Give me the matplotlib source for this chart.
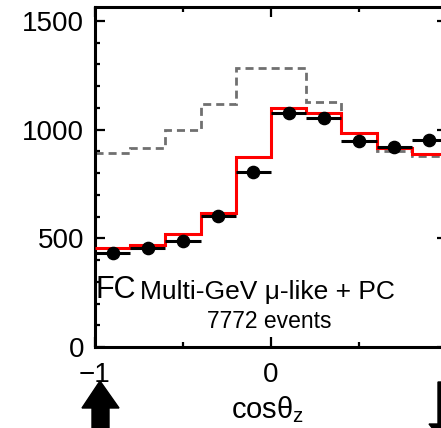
import numpy as np
import matplotlib
matplotlib.use("Agg")
import matplotlib.pyplot as plt
from matplotlib.patches import Polygon

# ---- data ----
bin_edges = [-1.0, -0.8, -0.6, -0.4, -0.2, 0.0, 0.2, 0.4, 0.6, 0.8, 1.0]
mc_null = [894, 914, 998, 1118, 1282, 1282, 1126, 985, 902, 880]      # gray dashed
mc_osc = [454, 467, 518, 615, 876, 1098, 1078, 983, 916, 889]         # red
data_vals = [431, 457, 487, 604, 807, 1075, 1052, 950, 921, 952]      # black points
xticks_major = [-1, 0, 1]
xtick_labels = ["\u22121", "0", ""]
yticks_major = [0, 500, 1000, 1500]

plt.rcParams['font.family'] = ['Liberation Sans', 'DejaVu Sans']
plt.rcParams['mathtext.fontset'] = 'custom'
plt.rcParams['mathtext.rm'] = 'Liberation Sans'
plt.rcParams['mathtext.it'] = 'Liberation Sans'

W, H = 441, 428
fig = plt.figure(figsize=(W / 100, H / 100), dpi=100)

def fx(px):
    return px / W

def fy(py):
    return 1 - py / H

ax = fig.add_axes([fx(95), fy(347), (447 - 95) / W, (347 - 7.5) / H])

edges = np.array(bin_edges)
centers = (edges[:-1] + edges[1:]) / 2
halfw = (edges[1:] - edges[:-1]) / 2

ax.stairs(mc_null, edges, color='#707070', lw=2.0, linestyle=(0, (2.9, 1.8)), baseline=None, zorder=2)
ax.stairs(mc_osc, edges, color='#ff0000', lw=2.2, baseline=None, zorder=3)
ax.errorbar(centers, data_vals, xerr=halfw, fmt='o', color='black', ms=8.8,
            elinewidth=2.2, capsize=0, zorder=4)

ax.set_xlim(-1, 1)
ax.set_ylim(0, 1562)
ax.set_xticks(xticks_major)
ax.set_xticklabels(xtick_labels)
ax.set_xticks([-0.5, 0.5], minor=True)
ax.set_yticks(yticks_major)
ax.set_yticks(np.arange(0, 1600, 100), minor=True)

for s in ax.spines.values():
    s.set_linewidth(2.2)
ax.tick_params(which='both', direction='in', top=True, right=True, width=1.6)
ax.tick_params(which='major', length=7.5, labelsize=20)
ax.tick_params(axis='x', which='major', pad=11)
ax.tick_params(axis='y', which='major', pad=8)
ax.tick_params(which='minor', length=3.5)

# texts
fig.text(fx(96), fy(298.5), "FC", fontsize=22, va='baseline', ha='left')
fig.text(fx(140), fy(298.5), "Multi-GeV \u03bc-like + PC", fontsize=19, va='baseline', ha='left')
fig.text(fx(207), fy(328), "7772 events", fontsize=16.5, va='baseline', ha='left')
fig.text(fx(231), fy(418), r"$\mathrm{cos}\theta_\mathrm{z}$", fontsize=21, va='baseline', ha='left')

# arrows
up = [(100, 381), (119, 408), (109, 408), (109, 440), (92, 440), (92, 408), (82, 408)]
fig.patches.append(Polygon([(fx(x), fy(y)) for x, y in up], closed=True,
                           transform=fig.transFigure, color='black', figure=fig))
down = [(438, 382), (454, 382), (454, 424), (463, 424), (446, 445), (429, 424), (438, 424)]
fig.patches.append(Polygon([(fx(x), fy(y)) for x, y in down], closed=True,
                           transform=fig.transFigure, color='black', figure=fig))

fig.savefig("out.png", dpi=100)
